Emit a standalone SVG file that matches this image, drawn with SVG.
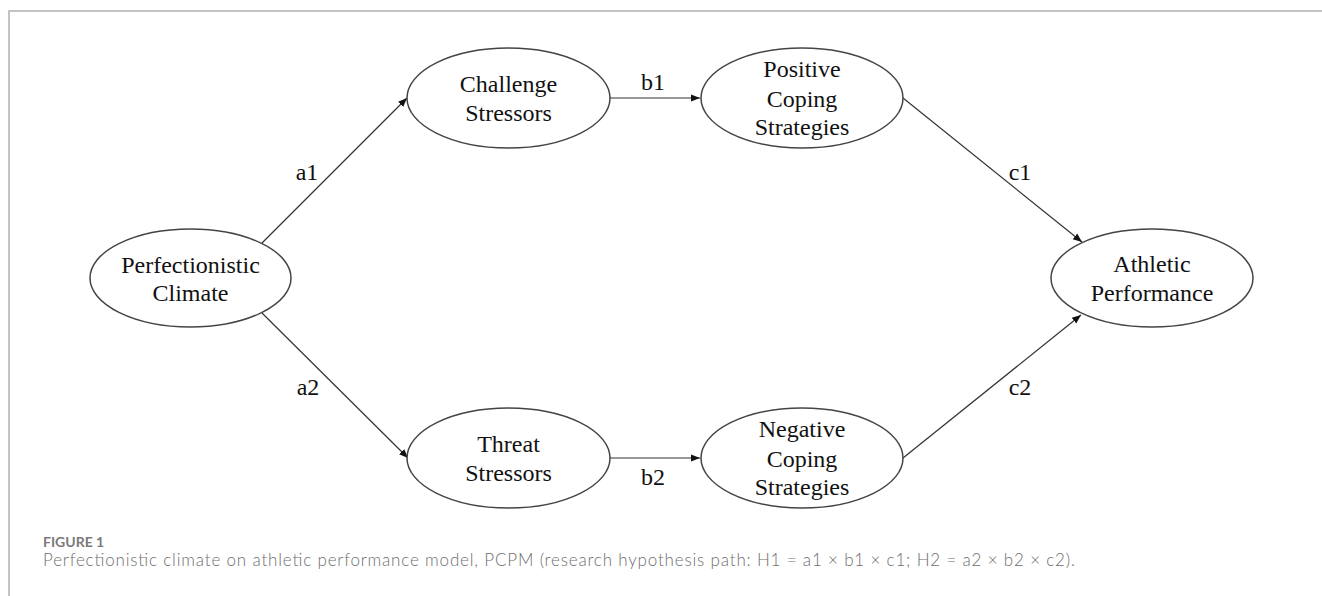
<svg xmlns="http://www.w3.org/2000/svg" width="1322" height="596" viewBox="0 0 1322 596">
<defs>
<marker id="arr" viewBox="0 0 10 10" refX="10" refY="5" markerWidth="9" markerHeight="9" markerUnits="userSpaceOnUse" orient="auto">
<path d="M0,1 L10,5 L0,9 Z" fill="#111"/>
</marker>
<style>
.node ellipse{fill:#fff;stroke:#444;stroke-width:1.5}
.node text,.lbl{font-family:"Liberation Serif","Times New Roman",serif;font-size:24px;fill:#111;text-anchor:middle}
.edge{stroke:#333;stroke-width:1.2;fill:none;marker-end:url(#arr)}
.frame{stroke:#b0b0b0;stroke-width:1.5;fill:none}
.figno{font-family:Lato,"Open Sans",sans-serif;font-size:14px;font-weight:700;fill:#7a7a7a}
.cap{font-family:Lato,"Open Sans",sans-serif;font-size:17px;font-weight:300;fill:#6e6e6e}
</style>
</defs>
<rect width="1322" height="596" fill="#fff"/>
<path class="frame" d="M9,596 V11 H1322"/>
<g id="connectors">
<line class="edge" x1="262" y1="243" x2="407" y2="98"/>
<line class="edge" x1="262" y1="313" x2="408" y2="458"/>
<line class="edge" x1="610" y1="98" x2="700" y2="98"/>
<line class="edge" x1="610" y1="458" x2="700" y2="458"/>
<line class="edge" x1="903" y1="98" x2="1082" y2="242"/>
<line class="edge" x1="903" y1="458" x2="1081" y2="315"/>
<text class="lbl" x="307" y="180">a1</text>
<text class="lbl" x="308" y="395">a2</text>
<text class="lbl" x="653" y="90">b1</text>
<text class="lbl" x="653" y="485">b2</text>
<text class="lbl" x="1020" y="180">c1</text>
<text class="lbl" x="1020" y="395">c2</text>
</g>
<g id="perfectionistic-climate" class="node">
<ellipse cx="190.5" cy="278" rx="100.5" ry="49"/>
<text x="190.5" y="273">Perfectionistic</text>
<text x="190.5" y="301">Climate</text>
</g>
<g id="challenge-stressors" class="node">
<ellipse cx="508.5" cy="98" rx="101.5" ry="50"/>
<text x="508.5" y="92">Challenge</text>
<text x="508.5" y="121">Stressors</text>
</g>
<g id="positive-coping" class="node">
<ellipse cx="802" cy="98" rx="101" ry="50"/>
<text x="802" y="77">Positive</text>
<text x="802" y="107">Coping</text>
<text x="802" y="135">Strategies</text>
</g>
<g id="athletic-performance" class="node">
<ellipse cx="1152" cy="278" rx="101" ry="49"/>
<text x="1152" y="272">Athletic</text>
<text x="1152" y="301">Performance</text>
</g>
<g id="threat-stressors" class="node">
<ellipse cx="508.5" cy="458" rx="101.5" ry="50"/>
<text x="508.5" y="452">Threat</text>
<text x="508.5" y="481">Stressors</text>
</g>
<g id="negative-coping" class="node">
<ellipse cx="802" cy="458" rx="101" ry="50"/>
<text x="802" y="437">Negative</text>
<text x="802" y="467">Coping</text>
<text x="802" y="495">Strategies</text>
</g>
<text class="figno" x="43" y="547">FIGURE 1</text>
<text class="cap" x="43" y="566" textLength="1032" lengthAdjust="spacing">Perfectionistic climate on athletic performance model, PCPM (research hypothesis path: H1 = a1 × b1 × c1; H2 = a2 × b2 × c2).</text>
</svg>
